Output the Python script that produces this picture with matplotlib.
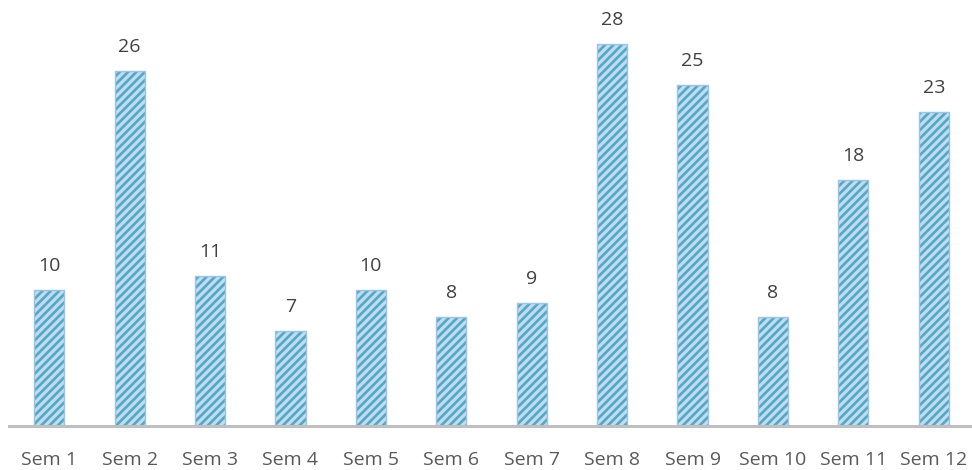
import matplotlib
matplotlib.use("Agg")
import matplotlib.pyplot as plt

categories = ["Sem 1", "Sem 2", "Sem 3", "Sem 4", "Sem 5", "Sem 6",
              "Sem 7", "Sem 8", "Sem 9", "Sem 10", "Sem 11", "Sem 12"]
values = [10, 26, 11, 7, 10, 8, 9, 28, 25, 8, 18, 23]

plt.rcParams['font.family'] = ['Open Sans', 'DejaVu Sans']
plt.rcParams['hatch.linewidth'] = 1.9

fig = plt.figure(figsize=(9.72, 4.70), dpi=100)
ax = fig.add_axes([9/972, 44/470, 965/972, 416/470])

x = list(range(len(categories)))
ax.bar(x, values, width=0.375, color="#C6D9F0", edgecolor="#4BACC6",
       hatch="////", linewidth=0, zorder=2)
ax.bar(x, values, width=0.375, fill=False, edgecolor="#9DC3E6",
       linewidth=1.0, zorder=3)

pt = 72 / 100  # points per pixel
for xi, v in zip(x, values):
    ax.annotate(str(v), (xi, v), xytext=(0, 19 * pt), textcoords="offset points",
                ha="center", va="baseline", fontsize=14, color="#404040")

for xi, c in zip(x, categories):
    ax.annotate(c, (xi, 0), xycoords=("data", "axes fraction"),
                xytext=(0, -39 * pt), textcoords="offset points",
                ha="center", va="baseline", fontsize=14, color="#595959",
                annotation_clip=False)

ax.set_xlim(-0.5, 11.5)
ax.set_ylim(0, 30.5)
ax.set_yticks([])
ax.set_xticks([])
for s in ["top", "right", "left"]:
    ax.spines[s].set_visible(False)
ax.spines["bottom"].set_color("#BFBFBF")
ax.spines["bottom"].set_linewidth(2.2)
ax.spines["bottom"].set_zorder(4)

fig.savefig("out.png", dpi=100)
